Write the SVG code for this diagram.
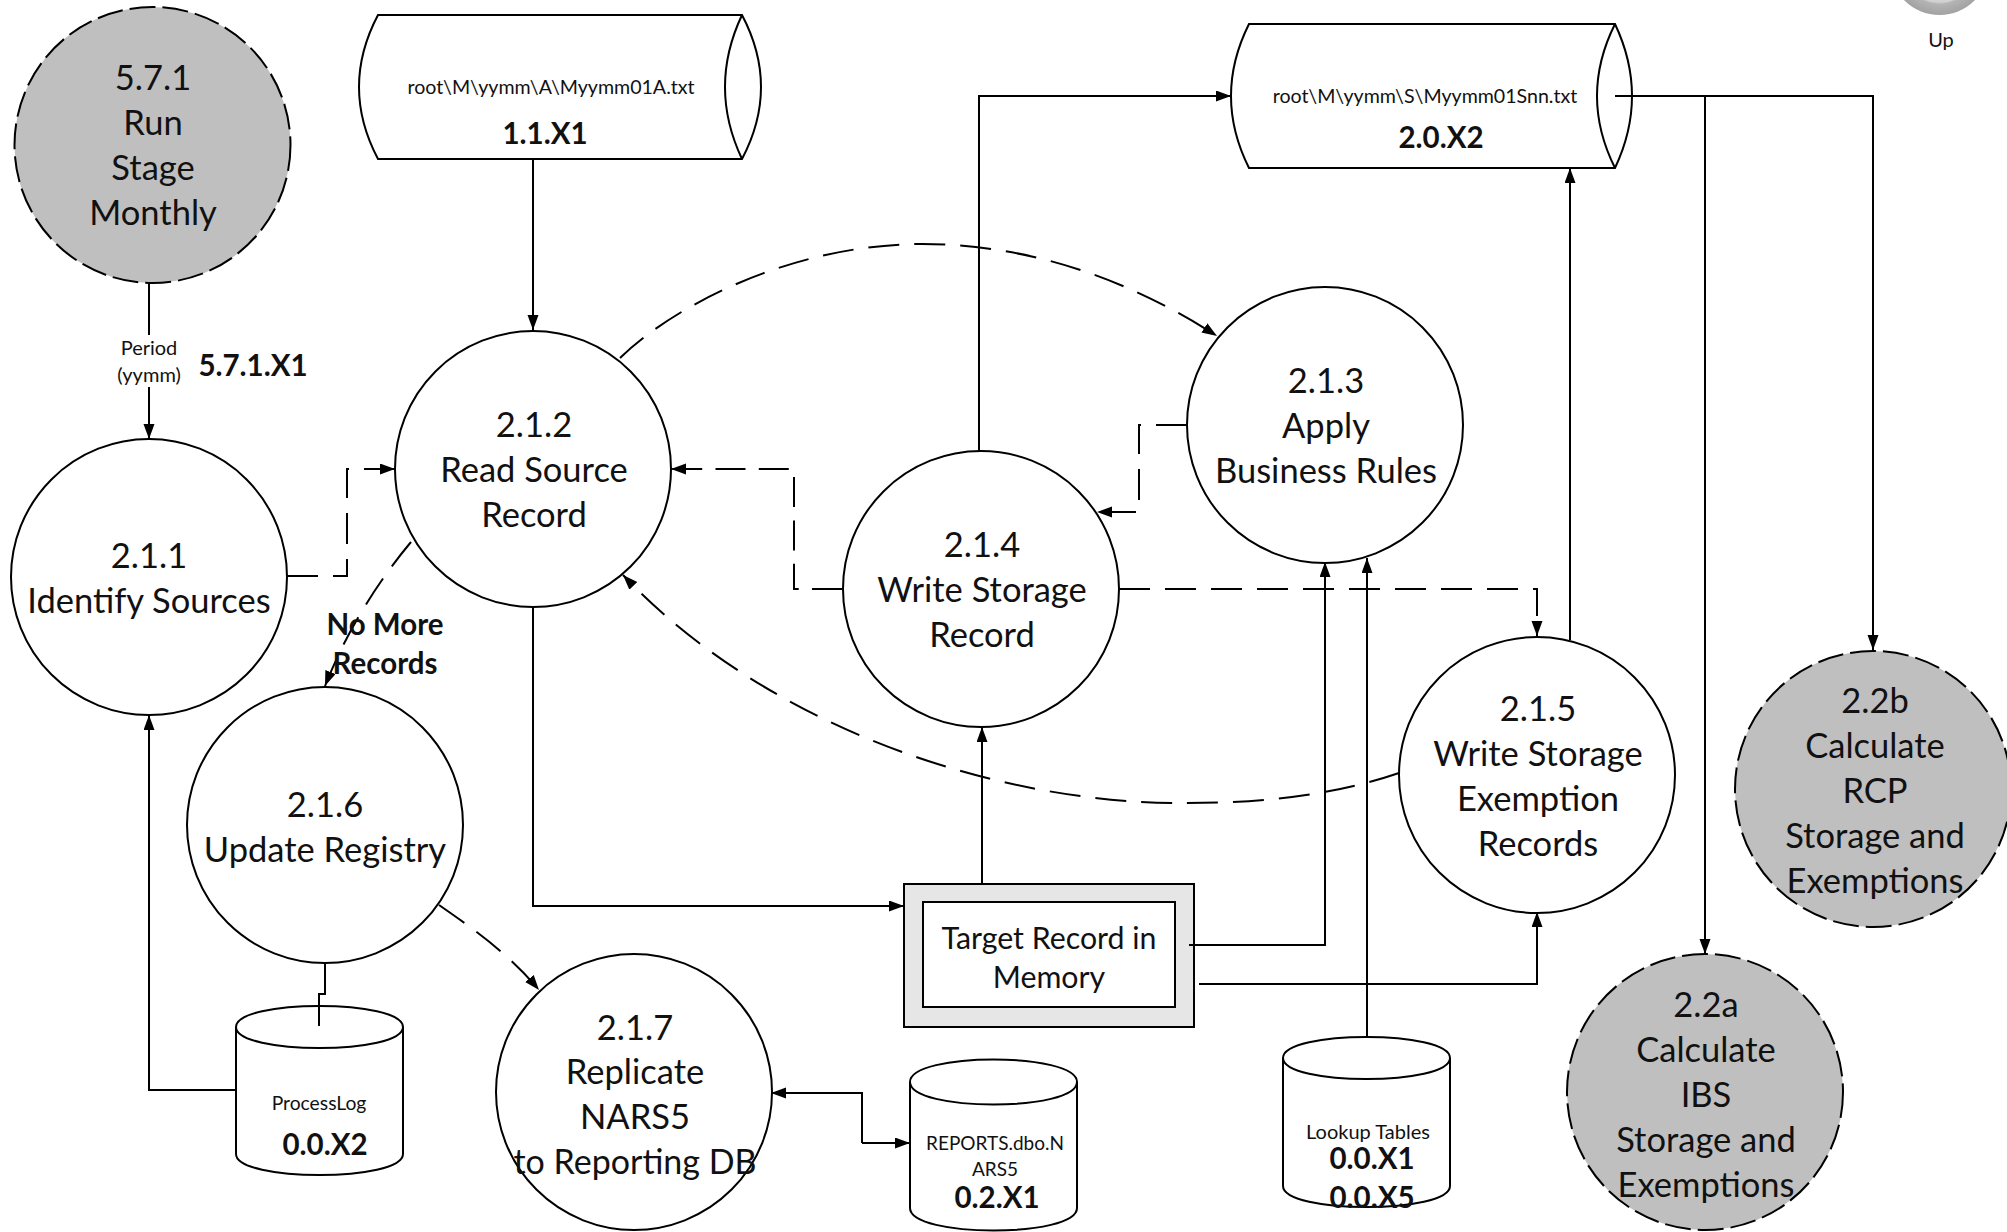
<svg xmlns="http://www.w3.org/2000/svg" width="2007" height="1232" viewBox="0 0 2007 1232">
<defs>
<marker id="a" markerUnits="userSpaceOnUse" markerWidth="16" markerHeight="12" refX="15" refY="5.500" orient="auto"><path d="M0 0L15 5.500L0 11Z" fill="#000"/></marker>
<radialGradient id="up"><stop offset="0" stop-color="#ddd"/><stop offset=".74" stop-color="#d2d2d2"/><stop offset=".78" stop-color="#b4b4b4"/><stop offset="1" stop-color="#a2a2a2"/></radialGradient>
</defs>
<style>
text{font-family:Lato,Carlito,"Liberation Sans",sans-serif;fill:#111;text-anchor:middle}
.n{font-size:34.500px;transform:translateY(1px)}
.s{font-size:19.600px}
.l{font-size:20px;transform:translateY(1px)}
.b{font-size:29.500px;font-weight:700;transform:translateY(1px)}
.sh{fill:#fff;stroke:#000;stroke-width:2}
.g{fill:#bfbfbf;stroke:#000;stroke-width:2;stroke-dasharray:26 7}
.c{fill:none;stroke:#000;stroke-width:2}
.d{stroke-dasharray:31 15}
</style>
<rect width="2007" height="1232" fill="#fff"/>
<g id="n571"><circle class="g" cx="152.500" cy="145" r="138"/><text class="n" x="153" y="89">5.7.1</text><text class="n" x="153" y="134">Run</text><text class="n" x="153" y="179">Stage</text><text class="n" x="153" y="224">Monthly</text></g>
<g id="n211"><circle class="sh" cx="149" cy="577" r="138"/><text class="n" x="149" y="567">2.1.1</text><text class="n" x="149" y="612">Identify Sources</text></g>
<g id="n212"><circle class="sh" cx="533" cy="469" r="138"/><text class="n" x="534" y="436">2.1.2</text><text class="n" x="534" y="481">Read Source</text><text class="n" x="534" y="526">Record</text></g>
<g id="n213"><circle class="sh" cx="1325" cy="425" r="138"/><text class="n" x="1326" y="392">2.1.3</text><text class="n" x="1326" y="437">Apply</text><text class="n" x="1326" y="482">Business Rules</text></g>
<g id="n214"><circle class="sh" cx="981" cy="589" r="138"/><text class="n" x="982" y="556">2.1.4</text><text class="n" x="982" y="601">Write Storage</text><text class="n" x="982" y="646">Record</text></g>
<g id="n215"><circle class="sh" cx="1537" cy="775" r="138"/><text class="n" x="1538" y="720">2.1.5</text><text class="n" x="1538" y="765">Write Storage</text><text class="n" x="1538" y="810">Exemption</text><text class="n" x="1538" y="855">Records</text></g>
<g id="n216"><circle class="sh" cx="325" cy="825" r="138"/><text class="n" x="325" y="816">2.1.6</text><text class="n" x="325" y="861">Update Registry</text></g>
<g id="n217"><circle class="sh" cx="634" cy="1092" r="138"/><text class="n" x="635" y="1039">2.1.7</text><text class="n" x="635" y="1083">Replicate</text><text class="n" x="635" y="1128">NARS5</text><text class="n" x="635" y="1173" style="font-size:34px">to Reporting DB</text></g>
<g id="n22b"><circle class="g" cx="1873" cy="789" r="138"/><text class="n" x="1875" y="712">2.2b</text><text class="n" x="1875" y="757">Calculate</text><text class="n" x="1875" y="802">RCP</text><text class="n" x="1875" y="847">Storage and</text><text class="n" x="1875" y="892">Exemptions</text></g>
<g id="n22a"><circle class="g" cx="1705" cy="1092" r="138"/><text class="n" x="1706" y="1016">2.2a</text><text class="n" x="1706" y="1061">Calculate</text><text class="n" x="1706" y="1106">IBS</text><text class="n" x="1706" y="1151">Storage and</text><text class="n" x="1706" y="1196">Exemptions</text></g>
<g id="s11"><path class="sh" d="M378 15H742Q780 87 742 159H378Q340 87 378 15Z"/><path class="c" d="M742 15Q708 87 742 159"/><text class="s" x="551" y="94">root\M\yymm\A\Myymm01A.txt</text><text class="b" x="545" y="143">1.1.X1</text></g>
<g id="s20"><path class="sh" d="M1249 24H1615Q1649 96 1615 168H1249Q1213 96 1249 24Z"/><path class="c" d="M1615 24Q1579 96 1615 168"/><text class="s" x="1425" y="103">root\M\yymm\S\Myymm01Snn.txt</text><text class="b" x="1441" y="147">2.0.X2</text></g>
<g id="s02"><path class="sh" d="M236 1027C236 999 403 999 403 1027V1154C403 1182 236 1182 236 1154Z"/><path class="c" d="M236 1027C236 1055 403 1055 403 1027"/><text class="l" x="319" y="1109" style="font-size:19.300px">ProcessLog</text><text class="b" x="325" y="1154">0.0.X2</text></g>
<g id="s21"><path class="sh" d="M910 1082C910 1052 1077 1052 1077 1082V1208C1077 1238 910 1238 910 1208Z"/><path class="c" d="M910 1082C910 1112 1077 1112 1077 1082"/><text class="l" x="995" y="1149" style="font-size:19px">REPORTS.dbo.N</text><text class="l" x="995" y="1175" style="font-size:19px">ARS5</text><text class="b" x="997" y="1207">0.2.X1</text></g>
<g id="s01"><path class="sh" d="M1283 1058C1283 1030 1450 1030 1450 1058V1186C1450 1214 1283 1214 1283 1186Z"/><path class="c" d="M1283 1058C1283 1086 1450 1086 1450 1058"/><text class="l" x="1368" y="1138">Lookup Tables</text><text class="b" x="1372" y="1168">0.0.X1</text><text class="b" x="1372" y="1207">0.0.X5</text></g>
<g id="target"><rect x="904" y="884" width="290" height="143" fill="#e6e6e6" stroke="#000" stroke-width="2"/><rect x="923" y="902" width="252" height="105" class="sh"/><text x="1049" y="949" style="font-size:30.300px">Target Record in</text><text x="1049" y="988" style="font-size:30.300px">Memory</text></g>
<g id="connectors">
<path class="c" d="M149 283V335M149 387V439" marker-end="url(#a)"/>
<path class="c" d="M533 159V330" marker-end="url(#a)"/>
<path class="c d" d="M287 576H347V469H395" marker-end="url(#a)"/>
<path class="c" d="M842 589H794V469H671" marker-end="url(#a)" style="stroke-dasharray:30 13.300"/>
<path class="c d" d="M620 358C680 300 800 244 922 244C1030 244 1130 280 1217 336" marker-end="url(#a)"/>
<path class="c d" d="M1187 425H1139V512H1097" marker-end="url(#a)"/>
<path class="c d" d="M1119 589H1537V636" marker-end="url(#a)"/>
<path class="c" d="M979 451V96H1231" marker-end="url(#a)"/>
<path class="c" d="M1570 640V168" marker-end="url(#a)"/>
<path class="c" d="M1615 96H1873V650" marker-end="url(#a)"/>
<path class="c" d="M1705 96V954" marker-end="url(#a)"/>
<path class="c d" d="M1399 773C1320 800 1240 803 1180 803C1000 803 770 730 623 575" marker-end="url(#a)"/>
<path class="c" d="M982 883V727" marker-end="url(#a)"/>
<path class="c" d="M1189 945H1325V562" marker-end="url(#a)"/>
<path class="c" d="M1199 984H1537V912" marker-end="url(#a)"/>
<path class="c" d="M1367 1036V558" marker-end="url(#a)"/>
<path class="c" d="M533 607V906H904" marker-end="url(#a)"/>
<path class="c" d="M236 1090H149V715" marker-end="url(#a)"/>
<path class="c" d="M325 963V994H319V1026"/>
<path class="c d" d="M411 542C375 585 345 635 325 686" marker-end="url(#a)"/>
<path class="c d" d="M439 905C475 930 510 955 539 990" marker-end="url(#a)"/>
<path class="c" d="M862 1143V1093H771" marker-end="url(#a)"/>
<path class="c" d="M862 1143H910" marker-end="url(#a)"/>
</g>
<g id="labels"><text class="l" x="149" y="354">Period</text><text class="l" x="149" y="381">(yymm)</text><text class="b" x="253" y="375">5.7.1.X1</text><text class="b" x="385" y="634">No More</text><text class="b" x="385" y="673">Records</text></g>
<g id="up-node"><circle cx="1939.500" cy="-34.500" r="49.500" fill="url(#up)"/><text class="l" x="1941" y="46">Up</text></g>
</svg>
